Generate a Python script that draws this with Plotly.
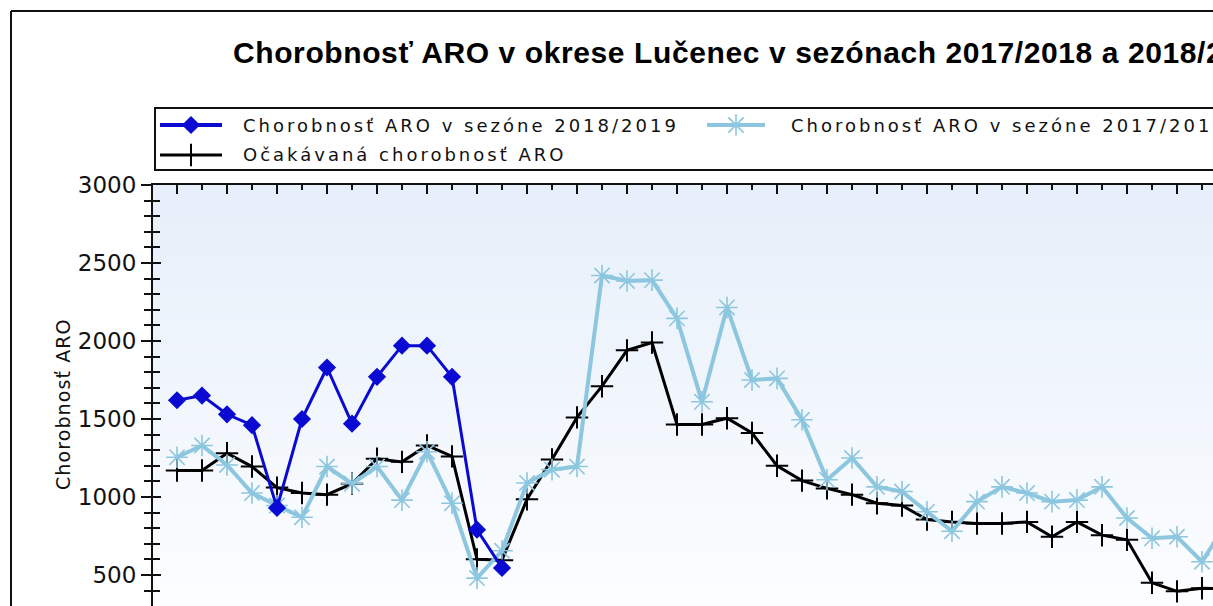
import plotly.graph_objects as go

# ---------------- data ----------------
weeks = [40, 41, 42, 43, 44, 45, 46, 47, 48, 49, 50, 51, 52,
         1, 2, 3, 4, 5, 6, 7, 8, 9, 10, 11, 12, 13, 14, 15, 16, 17,
         18, 19, 20, 21, 22, 23, 24, 25, 26, 27, 28, 29, 30]

season_2018_19 = [1620, 1650, 1530, 1460, 930, 1500, 1830, 1470, 1770, 1970,
                  1970, 1770, 790, 545]

season_2017_18 = [1255, 1330, 1205, 1025, 945, 870, 1195, 1085, 1195, 980,
                  1290, 960, 480, 655, 1090, 1175, 1195, 2420, 2385, 2390,
                  2145, 1610, 2215, 1750, 1760, 1495, 1110, 1250, 1065, 1035,
                  905, 780, 970, 1065, 1025, 970, 980, 1065, 865, 735,
                  745, 585, 840]

expected = [1170, 1170, 1280, 1195, 1060, 1025, 1015, 1085, 1245, 1225,
            1330, 1260, 600, 595, 985, 1240, 1510, 1710, 1940, 1990,
            1465, 1465, 1505, 1410, 1200, 1105, 1055, 1015, 960, 945,
            855, 840, 830, 830, 840, 745, 840, 755, 725, 450,
            395, 415, 410]

title_text = "Chorobnosť ARO v okrese Lučenec v sezónach 2017/2018 a 2018/2019"
y_title = "Chorobnosť ARO"
name_1819 = "Chorobnosť ARO v sezóne 2018/2019"
name_1718 = "Chorobnosť ARO v sezóne 2017/2018"
name_exp = "Očakávaná chorobnosť ARO"

# ---------------- layout constants (pixels) ----------------
W, H = 1213, 606
PL, PT = 153, 185          # plot-area left / top edge
X0, STEP = 177, 25         # pixel of first week, pixels per week
Y_TOP, Y_BOT = 3000, 301   # value range visible in the plot area

BLUE = "#0a0ad2"
LIGHT = "#8cc6df"
BLACK = "#000000"


def px(x):
    return x / W


def py(y):
    return 1 - y / H


def spaced(t, s):
    return f'<span style="letter-spacing:{s}px">{t}</span>'


fig = go.Figure()

idx_exp = list(range(len(expected)))
idx_1718 = list(range(len(season_2017_18)))
idx_1819 = list(range(len(season_2018_19)))

fig.add_trace(go.Scatter(
    x=idx_exp, y=expected, mode="lines+markers", name=name_exp,
    customdata=weeks[:len(expected)],
    line=dict(color=BLACK, width=3),
    marker=dict(symbol="cross-thin-open", size=16, color=BLACK,
                line=dict(width=2, color=BLACK)),
    showlegend=False))

fig.add_trace(go.Scatter(
    x=idx_1718, y=season_2017_18, mode="lines+markers", name=name_1718,
    customdata=weeks[:len(season_2017_18)],
    line=dict(color=LIGHT, width=4),
    marker=dict(symbol="asterisk-open", size=18, color=LIGHT,
                line=dict(width=1.6, color=LIGHT)),
    showlegend=False))

fig.add_trace(go.Scatter(
    x=idx_1819, y=season_2018_19, mode="lines+markers", name=name_1819,
    customdata=weeks[:len(season_2018_19)],
    line=dict(color=BLUE, width=3),
    marker=dict(symbol="diamond", size=14, color=BLUE, line=dict(width=0)),
    showlegend=False))

# ---------------- custom legend symbols on a pixel helper axis ----------------
leg_items = [
    (160, 222, 125, BLUE, 4, "diamond", 14, 0),
    (707, 765, 125, LIGHT, 4, "asterisk-open", 18, 1.6),
    (160, 222, 155, BLACK, 3, "cross-thin-open", 16, 2),
]
for (xa, xb, yy, col, lw, sym, ms, mlw) in leg_items:
    fig.add_trace(go.Scatter(x=[xa, xb], y=[yy, yy], mode="lines",
                             line=dict(color=col, width=lw),
                             xaxis="x2", yaxis="y2", showlegend=False,
                             hoverinfo="skip"))
    fig.add_trace(go.Scatter(x=[(xa + xb) / 2], y=[yy], mode="markers",
                             marker=dict(symbol=sym, size=ms, color=col,
                                         line=dict(width=mlw, color=col)),
                             xaxis="x2", yaxis="y2", showlegend=False,
                             hoverinfo="skip"))

# ---------------- shapes ----------------
shapes = []
# gradient plot background
N = 60
c_top = (230, 239, 250)
c_bot = (252, 253, 255)
for k in range(N):
    t = k / (N - 1)
    c = tuple(round(c_top[i] + (c_bot[i] - c_top[i]) * t) for i in range(3))
    y0 = PT + (H - PT) * k / N
    y1 = PT + (H - PT) * (k + 1) / N + 1
    shapes.append(dict(type="rect", xref="paper", yref="paper",
                       x0=px(PL), x1=1.0, y0=py(y1), y1=py(y0),
                       fillcolor=f"rgb{c}", line=dict(width=0), layer="below"))
# outer frame
shapes.append(dict(type="line", xref="paper", yref="paper",
                   x0=px(11), x1=px(11), y0=0, y1=py(11),
                   line=dict(color="#111", width=2)))
shapes.append(dict(type="line", xref="paper", yref="paper",
                   x0=px(11), x1=1.0, y0=py(11), y1=py(11),
                   line=dict(color="#111", width=2)))
# legend box
shapes.append(dict(type="rect", xref="paper", yref="paper",
                   x0=px(155), x1=px(W + 20), y0=py(170), y1=py(108),
                   line=dict(color="#111", width=2), fillcolor="white",
                   layer="below"))

# ---------------- annotations ----------------
LEG_FONT = dict(family="DejaVu Sans", size=18, color="#111")
ann = [
    dict(text="<b>" + spaced(title_text, 0.6) + "</b>", xref="paper",
         yref="paper", x=px(231), y=py(52), xanchor="left",
         yanchor="middle", showarrow=False,
         font=dict(family="Liberation Sans", size=30, color="#000")),
    dict(text=spaced(name_1819, 3.0), xref="paper", yref="paper",
         x=px(241), y=py(125), xanchor="left", yanchor="middle",
         showarrow=False, font=LEG_FONT),
    dict(text=spaced(name_1718, 3.0), xref="paper", yref="paper",
         x=px(789), y=py(125), xanchor="left", yanchor="middle",
         showarrow=False, font=LEG_FONT),
    dict(text=spaced(name_exp, 3.0), xref="paper", yref="paper",
         x=px(241), y=py(155), xanchor="left", yanchor="middle",
         showarrow=False, font=LEG_FONT),
    dict(text=spaced(y_title, 1.1), xref="paper", yref="paper",
         x=px(63), y=py(404), xanchor="center", yanchor="middle",
         textangle=-90, showarrow=False,
         font=dict(family="DejaVu Sans", size=19, color="#111")),
]

x_range = [(PL - X0) / STEP, (W - X0) / STEP]
y_dom_top = (H - PT) / H

fig.update_layout(
    template="none",
    width=W, height=H,
    margin=dict(l=0, r=0, t=0, b=0, pad=0, autoexpand=False),
    paper_bgcolor="white",
    plot_bgcolor="rgba(0,0,0,0)",
    showlegend=False,
    shapes=shapes,
    annotations=ann,
    xaxis=dict(domain=[px(PL), 1], range=x_range, side="top",
               automargin=False,
               showgrid=False, zeroline=False, showticklabels=False,
               showline=True, linecolor="#111", linewidth=2,
               tickmode="linear", tick0=0, dtick=2,
               ticks="inside", ticklen=9, tickwidth=2, tickcolor="#111",
               minor=dict(dtick=1, tick0=0, ticks="inside", ticklen=5,
                          tickwidth=2, tickcolor="#111", showgrid=False)),
    yaxis=dict(domain=[0, y_dom_top], range=[Y_BOT, Y_TOP],
               automargin=False,
               showgrid=False, zeroline=False,
               showline=True, linecolor="#111", linewidth=2,
               tickmode="linear", tick0=0, dtick=500,
               ticks="outside", ticklen=10, tickwidth=2, tickcolor="#111",
               tickfont=dict(family="DejaVu Sans", size=23, color="#111"),
               minor=dict(dtick=100, ticks="outside", ticklen=7,
                          tickwidth=2, tickcolor="#111", showgrid=False)),
    yaxis3=dict(overlaying="y", matches="y", range=[Y_BOT, Y_TOP],
                side="left", anchor="x", automargin=False,
                showgrid=False, zeroline=False, showticklabels=False,
                showline=False,
                tickmode="linear", tick0=0, dtick=500,
                ticks="inside", ticklen=8, tickwidth=2, tickcolor="#111",
                minor=dict(dtick=100, ticks="inside", ticklen=7,
                           tickwidth=2, tickcolor="#111", showgrid=False)),
    xaxis2=dict(domain=[0, 1], range=[0, W], visible=False, anchor="y2",
                fixedrange=True, automargin=False),
    yaxis2=dict(domain=[0, 1], range=[H, 0], visible=False, anchor="x2",
                fixedrange=True, automargin=False),
)

# dummy (empty) trace so the inside-tick overlay axis is drawn
fig.add_trace(go.Scatter(x=[None], y=[None], yaxis="y3", xaxis="x",
                         showlegend=False, hoverinfo="skip"))

post = (
    "var de=document.documentElement, b=document.body;"
    "de.style.margin='0';de.style.padding='0';de.style.overflow='hidden';"
    "b.style.margin='0';b.style.padding='0';b.style.overflow='hidden';"
)

fig.write_html("out.html", post_script=post,
               config={"displayModeBar": False})
